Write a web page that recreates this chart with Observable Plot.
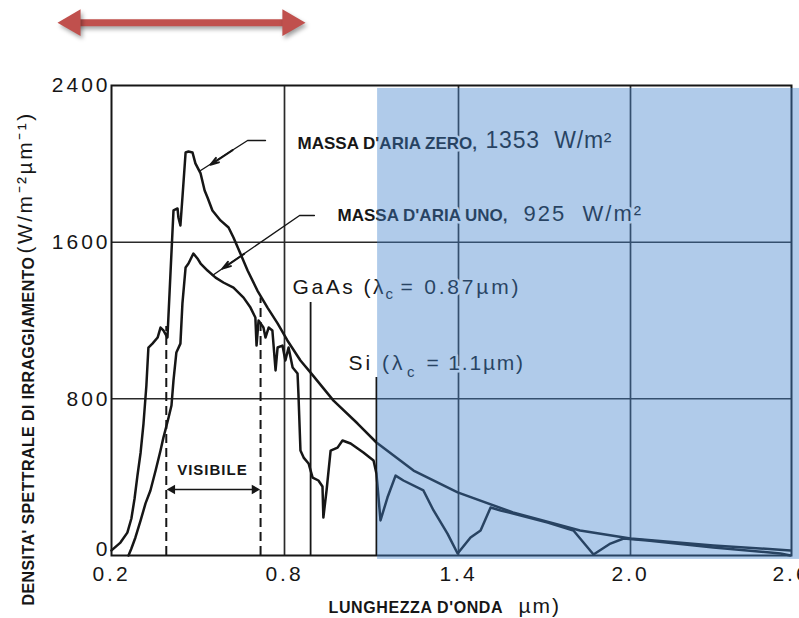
<!DOCTYPE html>
<html><head><meta charset="utf-8">
<script src="https://cdn.jsdelivr.net/npm/d3@7"></script>
<script src="https://cdn.jsdelivr.net/npm/@observablehq/plot@0.6"></script>
<style>body{margin:0;background:#fff} svg{display:block}</style>
</head><body><div id="chart"></div>
<script>
// ---- axis ticks ----
const xTicks = [0.2, 0.8, 1.4, 2.0, 2.6];
const yTicks = [0, 800, 1600, 2400];
const xGrid = [0.8, 1.4, 2.0];
const yGrid = [800, 1600];

// ---- air mass zero spectrum (W m^-2 um^-1) ----
const am0Wavelength = [0.2,0.231,0.255,0.269,0.28,0.29,0.301,0.311,0.321,0.328,0.342,0.36,0.37,0.38,0.394,0.405,0.415,0.429,0.432,0.439,0.446,0.457,0.467,0.481,0.491,0.509,0.523,0.533,0.55,0.578,0.606,0.623,0.647,0.672,0.706,0.741,0.776,0.81,0.855,0.89,0.969,1.052,1.117,1.245,1.397,1.59,1.824,2.0,2.309,2.596];
const am0Irradiance = [26,66,117,189,291,408,526,674,868,1062,1082,1113,1164,1149,1113,1455,1762,1772,1726,1685,1828,2058,2063,2058,2002,1951,1864,1828,1762,1711,1675,1624,1542,1455,1353,1266,1185,1098,996,934,791,674,577,434,322,220,128,87,51,26];

// ---- air mass one spectrum ----
const am1Wavelength = [0.259,0.269,0.283,0.301,0.318,0.335,0.353,0.37,0.38,0.391,0.398,0.408,0.415,0.425,0.439,0.446,0.457,0.467,0.484,0.498,0.509,0.533,0.561,0.588,0.623,0.658,0.682,0.699,0.703,0.71,0.727,0.734,0.745,0.758,0.769,0.776,0.793,0.803,0.814,0.828,0.845,0.848,0.855,0.866,0.883,0.897,0.917,0.931,0.934,0.945,0.959,0.983,1.0,1.028,1.072,1.107,1.117,1.131,1.155,1.183,1.21,1.279,1.314,1.362,1.397,1.442,1.477,1.512,1.547,1.617,1.711,1.801,1.871,1.93,1.976,2.063,2.309,2.559,2.596];
const am1Irradiance = [0,36,92,179,266,332,434,536,602,664,705,766,894,1037,1082,1287,1471,1491,1542,1517,1491,1455,1419,1394,1368,1317,1266,1215,1072,1200,1164,1113,1164,1149,945,1062,1072,996,1062,960,929,827,536,500,470,398,383,352,194,332,536,551,587,572,526,485,419,179,296,408,383,332,230,112,10,92,128,245,230,204,168,128,5,61,87,77,41,10,0];

// ---- cut-off wavelengths and visible band (as drawn) ----
const cutoffX = [0.89, 1.117];
const cutoffTop = [1292, 909];
const visibleX = [0.39, 0.717];
const visibleTop = [1170, 1315];
const visibleArrowY = 337;
const rangeArrow = [0.013, 0.872];
const rangeArrowY = 2721;
const shadedBand = [1.121, 2.63, -20, 2385];

const am0 = am0Wavelength.map((x, i) => ({x, y: am0Irradiance[i]}));
const am1 = am1Wavelength.map((x, i) => ({x, y: am1Irradiance[i]}));
const cutoffs = cutoffX.map((x, i) => ({x, top: cutoffTop[i]}));
const visible = visibleX.map((x, i) => ({x, top: visibleTop[i]}));

// leader lines from the labels to the curves
const leaderAM0 = [{x: 0.734, y: 2119}, {x: 0.672, y: 2119}, {x: 0.509, y: 1966}];
const leaderAM0Head = [{x1: 0.62, y1: 2070, x2: 0.543, y2: 1995}];
const leaderAM1 = [{x: 0.903, y: 1736}, {x: 0.852, y: 1736}, {x: 0.55, y: 1430}];
const leaderAM1Head = [{x1: 0.66, y1: 1540, x2: 0.585, y2: 1465}];

const ink = "#161616";
const red = "#c0504d";
const sans = "Liberation Sans, Arial, Helvetica, sans-serif";
const halo = {stroke: "white", strokeWidth: 5, fill: ink};
const T = (d, o) => Plot.text([d], {x: "x", y: "y", text: "t", textAnchor: "start", fontFamily: sans, ...halo, ...o});
const headOpts = {x1: "x1", y1: "y1", x2: "x2", y2: "y2", stroke: ink, strokeWidth: 2, headLength: 11, headAngle: 35};

const svg = Plot.plot({
  width: 799, height: 618,
  marginLeft: 111, marginRight: 8, marginTop: 85, marginBottom: 63,
  x: {type: "linear", domain: xTicks, range: [111, 284, 458, 630, 791]},
  y: {domain: [0, 2400], range: [555, 85]},
  style: {background: "#fff", color: ink, overflow: "visible"},
  marks: [
    Plot.ruleY(yGrid, {stroke: "#2a2a2a", strokeWidth: 1.5}),
    Plot.ruleX(xGrid, {stroke: "#2a2a2a", strokeWidth: 1.7}),
    Plot.frame({stroke: ink, strokeWidth: 2}),
    Plot.axisX({ticks: xTicks, tickFormat: d3.format(".1f"), tickSize: 0, tickPadding: 11, fontSize: 21, fontFamily: sans, label: null}),
    Plot.axisY({ticks: yTicks, tickFormat: d3.format("d"), tickSize: 0, tickPadding: 1, fontSize: 21, fontFamily: sans, label: null}),
    // labels (white halo breaks the grid like the original)
    T({x: 0.845, y: 2106, t: "MASSA D'ARIA ZERO,"}, {fontWeight: "bold", fontSize: 17}),
    T({x: 1.494, y: 2116, t: "1353  W/m²"}, {fontSize: 23}),
    T({x: 0.983, y: 1738, t: "MASSA D'ARIA UNO,"}, {fontWeight: "bold", fontSize: 17}),
    T({x: 1.627, y: 1746, t: "925  W/m²"}, {fontSize: 22}),
    T({x: 0.828, y: 1368, t: "GaAs (λ"}, {fontSize: 21}),
    T({x: 1.148, y: 1333, t: "c"}, {fontSize: 15}),
    T({x: 1.2, y: 1368, t: "= 0.87µm)"}, {fontSize: 21}),
    T({x: 1.021, y: 980, t: "Si (λ"}, {fontSize: 21}),
    T({x: 1.222, y: 934, t: "c"}, {fontSize: 15}),
    T({x: 1.29, y: 980, t: "= 1.1µm)"}, {fontSize: 21}),
    T({x: 0.55, y: 434, t: "VISIBILE"}, {fontWeight: "bold", fontSize: 15, textAnchor: "middle"}),
    // cut-off lines
    Plot.ruleX(cutoffs, {x: "x", y1: 0, y2: "top", stroke: ink, strokeWidth: 1.8}),
    // visible band
    Plot.ruleX(visible, {x: "x", y1: 0, y2: "top", stroke: ink, strokeWidth: 2, strokeDasharray: "9,5"}),
    Plot.ruleY([visibleArrowY], {x1: visibleX[0], x2: visibleX[1], stroke: ink, strokeWidth: 1.5, insetLeft: 4, insetRight: 4}),
    Plot.dot([visibleArrowY], {x: visibleX[0], y: d => d, symbol: "triangle", rotate: -90, r: 3.6, dx: 6, fill: ink, stroke: null}),
    Plot.dot([visibleArrowY], {x: visibleX[1], y: d => d, symbol: "triangle", rotate: 90, r: 3.6, dx: -6, fill: ink, stroke: null}),
    // leader arrows
    Plot.line(leaderAM0, {x: "x", y: "y", stroke: ink, strokeWidth: 1.4}),
    Plot.arrow(leaderAM0Head, headOpts),
    Plot.line(leaderAM1, {x: "x", y: "y", stroke: ink, strokeWidth: 1.4}),
    Plot.arrow(leaderAM1Head, headOpts),
    // spectra
    Plot.line(am0, {x: "x", y: "y", stroke: ink, strokeWidth: 2.5, strokeLinejoin: "round"}),
    Plot.line(am1, {x: "x", y: "y", stroke: ink, strokeWidth: 2.5, strokeLinejoin: "round"}),
    // axis titles
    T({x: 0.952, y: -266, t: "LUNGHEZZA D'ONDA"}, {fontWeight: "bold", fontSize: 16, stroke: null}),
    T({x: 1.609, y: -258, t: "µm)"}, {fontSize: 21, stroke: null}),
    T({x: -0.088, y: -255, t: "DENSITA' SPETTRALE DI IRRAGGIAMENTO"}, {fontWeight: "bold", fontSize: 16, rotate: -90, stroke: null}),
    T({x: -0.1, y: 1542, t: "(W/m⁻²µm⁻¹)"}, {fontSize: 21, rotate: -90, stroke: null}),
    // shaded infrared band (overlay)
    Plot.rect([shadedBand], {x1: d => d[0], x2: d => d[1], y1: d => d[2], y2: d => d[3], fill: "rgb(66,130,204)", fillOpacity: 0.42}),
    // red range arrow above the chart
    Plot.ruleY([rangeArrowY], {x1: rangeArrow[0], x2: rangeArrow[1], stroke: red, strokeWidth: 7, insetLeft: 14, insetRight: 14}),
    Plot.dot([rangeArrowY], {x: rangeArrow[0], y: d => d, symbol: "triangle", rotate: -90, r: 9.9, dx: 15.3, fill: red, stroke: null}),
    Plot.dot([rangeArrowY], {x: rangeArrow[1], y: d => d, symbol: "triangle", rotate: 90, r: 9.9, dx: -15.3, fill: red, stroke: null})
  ]
});
document.getElementById("chart").append(svg);

// ---- typographic tweaks, matched on text content ----
const spacing = {
  "1353  W/m²": 0.8, "925  W/m²": 2,
  "GaAs (λ": 2.5, "= 0.87µm)": 2.8, "Si (λ": 3, "= 1.1µm)": 1.8,
  "VISIBILE": 1, "LUNGHEZZA D'ONDA": 0.6, "µm)": 2,
  "DENSITA' SPETTRALE DI IRRAGGIAMENTO": 0.4, "(W/m⁻²µm⁻¹)": 2.5,
  "0.2": 3, "0.8": 3, "1.4": 3, "2.0": 3, "2.6": 3,
  "0": 3, "800": 3, "1600": 3, "2400": 3
};
svg.querySelectorAll("text").forEach(t => {
  const s = t.textContent;
  if (spacing[s] != null) t.style.letterSpacing = spacing[s] + "px";
  if (s === "0") t.setAttribute("y", (+(t.getAttribute("y") || 0)) - 6); // origin label sits a little above the axis
});
svg.querySelectorAll(`[fill="${red}"], [stroke="${red}"]`).forEach(el => {
  el.style.filter = "drop-shadow(2px 3px 2px rgba(0,0,0,0.35))";
});
</script>
</body></html>
